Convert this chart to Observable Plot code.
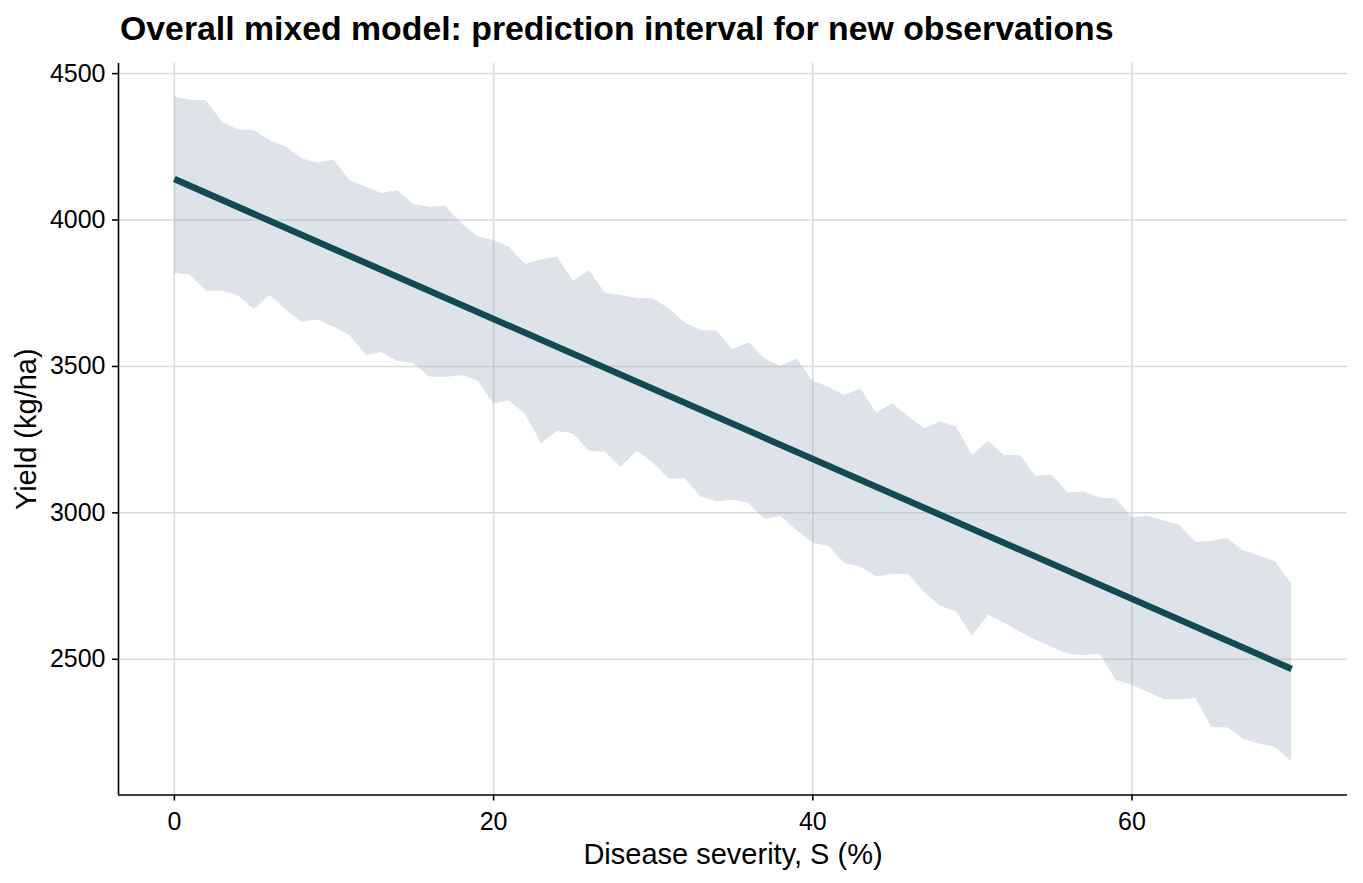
<!DOCTYPE html>
<html><head><meta charset="utf-8">
<script src="https://cdn.jsdelivr.net/npm/d3@7"></script>
<script src="https://cdn.jsdelivr.net/npm/@observablehq/plot@0.6"></script>
<style>
html,body{margin:0;padding:0;background:#fff;overflow:hidden;}
#title{position:relative;height:50px;font-family:"Liberation Sans",Arial,sans-serif;}
#title span{position:absolute;left:120px;top:11px;font-size:33.8px;line-height:34px;font-weight:bold;color:#000;white-space:nowrap;}
#chart svg{display:block;}
</style></head><body>
<div id="title"><span id="titletext"></span></div>
<div id="chart"></div>
<script>
const titleText = "Overall mixed model: prediction interval for new observations";
const xLabel = "Disease severity, S (%)";
const yLabel = "Yield (kg/ha)";

const severity = [0,1,2,3,4,5,6,7,8,9,10,11,12,13,14,15,16,17,18,19,20,21,22,23,24,25,26,27,28,29,30,31,32,33,34,35,36,37,38,39,40,41,42,43,44,45,46,47,48,49,50,51,52,53,54,55,56,57,58,59,60,61,62,63,64,65,66,67,68,69,70];
const upper = [4421,4408,4408,4334,4308,4305,4271,4249,4209,4194,4205,4135,4112,4091,4101,4053,4044,4047,3987,3944,3930,3907,3848,3864,3873,3791,3828,3750,3742,3732,3731,3697,3648,3623,3620,3557,3582,3526,3500,3526,3450,3429,3401,3424,3341,3373,3327,3287,3310,3293,3196,3245,3196,3196,3125,3128,3068,3071,3050,3048,2984,2988,2972,2957,2900,2903,2912,2870,2852,2832,2758];
const lower = [3818,3811,3757,3757,3742,3694,3742,3693,3651,3659,3634,3606,3538,3547,3518,3509,3464,3462,3469,3450,3373,3382,3336,3236,3278,3270,3210,3207,3156,3210,3170,3115,3117,3054,3037,3043,3033,2977,2988,2940,2895,2886,2827,2815,2781,2790,2790,2728,2681,2662,2579,2650,2624,2593,2565,2540,2517,2513,2517,2428,2411,2388,2362,2362,2366,2267,2265,2226,2210,2199,2150];
const fitSeverity = [0, 70];
const fitYield = [4140, 2467];
const xTicks = [0, 20, 40, 60];
const yTicks = [2500, 3000, 3500, 4000, 4500];

document.getElementById("titletext").textContent = titleText;

const band = severity.map((s, i) => ({s, lo: lower[i], hi: upper[i]}));
const fit = fitSeverity.map((s, i) => ({s, y: fitYield[i]}));

const xe = d3.extent(severity), xp = (xe[1] - xe[0]) * 0.05;
const xDomain = [xe[0] - xp, xe[1] + xp];
const ye = [d3.min(lower), d3.max(upper)], yp = (ye[1] - ye[0]) * 0.05;
const yDomain = [ye[0] - yp, ye[1] + yp];

const font = "'Liberation Sans', Arial, sans-serif";
const chart = Plot.plot({
  width: 1363,
  height: 833,
  marginLeft: 118,
  marginRight: 16,
  marginTop: 13,
  marginBottom: 88.5,
  x: {domain: xDomain},
  y: {domain: yDomain},
  style: {fontFamily: font, color: "#000", background: "#fff", overflow: "visible"},
  marks: [
    Plot.gridX({ticks: xTicks, stroke: "#d9d9d9", strokeOpacity: 1, strokeWidth: 1.5}),
    Plot.gridY({ticks: yTicks, stroke: "#d9d9d9", strokeOpacity: 1, strokeWidth: 1.5}),
    Plot.areaY(band, {x: "s", y1: "lo", y2: "hi", fill: "#9cadbc", fillOpacity: 0.34}),
    Plot.line(fit, {x: "s", y: "y", stroke: "#124a54", strokeWidth: 6.5, strokeLinecap: "butt"}),
    Plot.ruleX([xDomain[0]], {stroke: "#000", strokeWidth: 1.6}),
    Plot.ruleY([yDomain[0]], {stroke: "#000", strokeWidth: 1.6}),
    Plot.axisX({ticks: xTicks, tickSize: 6, tickPadding: 11, fontSize: 25, label: null, tickFormat: d => String(d), strokeWidth: 1.6}),
    Plot.axisY({ticks: yTicks, tickSize: 6, tickPadding: 7, fontSize: 25, label: null, tickFormat: d => String(d), strokeWidth: 1.6}),
    Plot.text([xLabel], {text: d => d, frameAnchor: "bottom", dy: 59.5, fontSize: 29, textAnchor: "middle", lineAnchor: "middle"}),
    Plot.text([yLabel], {text: d => d, frameAnchor: "left", rotate: -90, dx: -91.3, fontSize: 29, textAnchor: "middle", lineAnchor: "middle"})
  ]
});
document.getElementById("chart").appendChild(chart);
</script>
</body></html>
